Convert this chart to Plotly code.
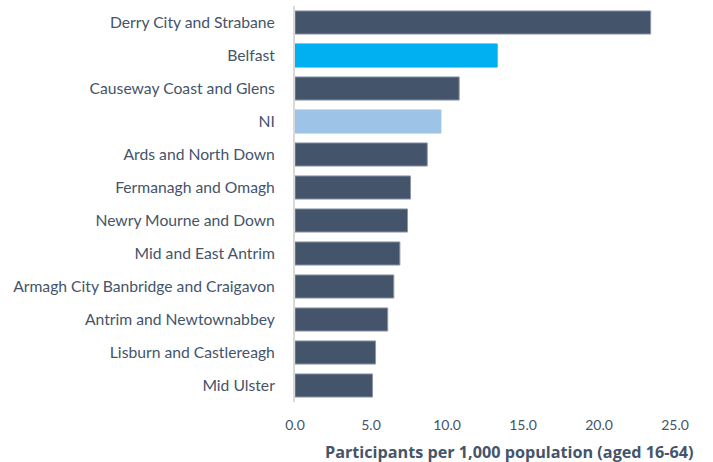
import plotly.graph_objects as go

categories = ["Derry City and Strabane", "Belfast", "Causeway Coast and Glens", "NI",
              "Ards and North Down", "Fermanagh and Omagh", "Newry Mourne and Down",
              "Mid and East Antrim", "Armagh City Banbridge and Craigavon",
              "Antrim and Newtownabbey", "Lisburn and Castlereagh", "Mid Ulster"]
values = [23.4, 13.3, 10.8, 9.6, 8.7, 7.6, 7.4, 6.9, 6.5, 6.1, 5.3, 5.1]
tick_vals = [0, 5, 10, 15, 20, 25]
tick_text = ["0.0", "5.0", "10.0", "15.0", "20.0", "25.0"]
x_title = "Participants per 1,000 population (aged 16-64)"

def color_for(c):
    if c == "Belfast":
        return "#00B0F0"
    if c == "NI":
        return "#9DC3E6"
    return "#44546A"

colors = [color_for(c) for c in categories]
line_colors = ["#8C96A8" if c == "#44546A" else c for c in colors]

fig = go.Figure(go.Bar(
    x=values, y=categories, orientation="h",
    marker=dict(color=colors, line=dict(color=line_colors, width=1)),
    hoverinfo="x+y",
))

font_family = "Lato, 'Open Sans', sans-serif"
fig.update_layout(
    width=713, height=462,
    margin=dict(l=295, r=38, t=6, b=60, autoexpand=False),
    paper_bgcolor="white", plot_bgcolor="white",
    bargap=0.3,
    showlegend=False,
    font=dict(family=font_family, color="#44546A", size=14),
    xaxis=dict(range=[0, 25], tickvals=tick_vals, ticktext=tick_text,
               showgrid=False, zeroline=False, showline=False,
               tickfont=dict(size=14, color="#44546A"), ticks="",
               ticklabelstandoff=13),
    yaxis=dict(autorange="reversed", showgrid=False, zeroline=False,
               showline=True, linecolor="#D9D9D9", linewidth=2,
               ticks="", tickfont=dict(size=15.7, color="#44546A"),
               ticklabelstandoff=15),
    annotations=[dict(text="<b>" + x_title + "</b>", xref="paper", yref="paper",
                      x=1.055, y=0, yshift=-37, xanchor="right", yanchor="top",
                      showarrow=False,
                      font=dict(size=16.2, color="#44546A", family="'Open Sans', sans-serif"))],
)

fig.write_html("out.html", config={"displayModeBar": False},
               post_script="document.body.style.margin='0';document.body.style.overflow='hidden';")
